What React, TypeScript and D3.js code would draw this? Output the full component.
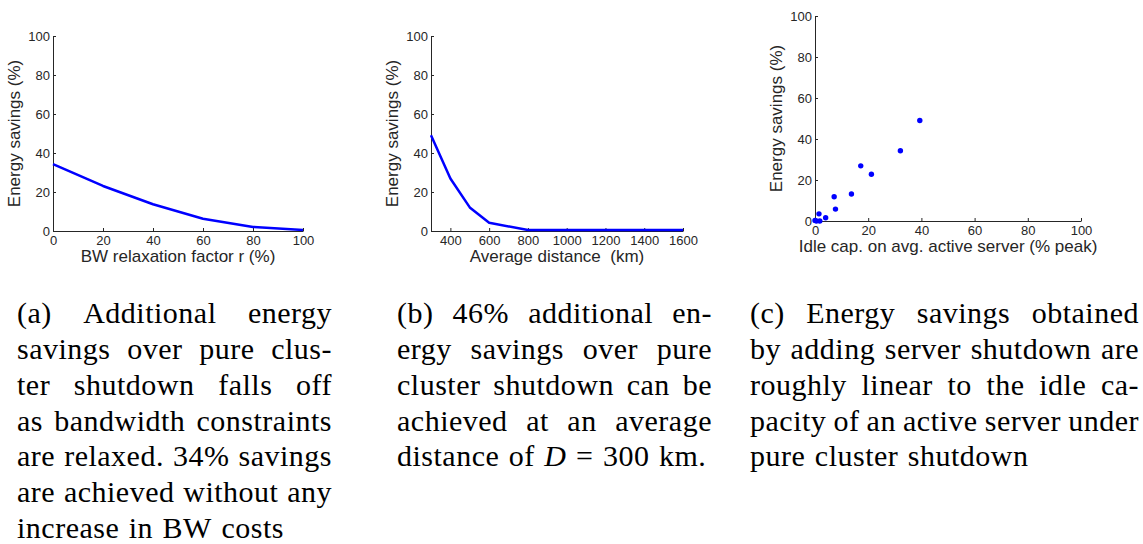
import React, { useEffect, useRef } from 'react';
import * as d3 from 'd3';

// (a) energy savings vs BW relaxation factor
const relaxX = [0, 20, 40, 60, 80, 100];
const relaxY = [34.3, 23.1, 13.7, 6.3, 2.1, 0.5];

// (b) energy savings vs average distance
const distX = [300, 400, 500, 600, 800, 1000, 1200, 1400, 1600];
const distY = [49.1, 26.9, 12.1, 4.2, 0.5, 0.5, 0.5, 0.5, 0.5];
const distTicks = [400, 600, 800, 1000, 1200, 1400, 1600];

// (c) energy savings vs idle capacity
const idleX = [0, 0.5, 1.8, 1.5, 4.0, 7.7, 7.2, 13.7, 17.2, 21.2, 32.1, 39.4];
const idleY = [0.3, 0, 0, 3.5, 1.6, 5.8, 11.8, 13.2, 26.9, 22.8, 34.3, 49.0];

const pctTicks = [0, 20, 40, 60, 80, 100];

const captionA = [
  '(a) Additional energy',
  'savings over pure clus-',
  'ter shutdown falls off',
  'as bandwidth constraints',
  'are relaxed. 34% savings',
  'are achieved without any',
  'increase in BW costs',
];
const captionB = [
  '(b) 46% additional en-',
  'ergy savings over pure',
  'cluster shutdown can be',
  'achieved at an average',
  'distance of D = 300 km.',
];
const captionC = [
  '(c) Energy savings obtained',
  'by adding server shutdown are',
  'roughly linear to the idle ca-',
  'pacity of an active server under',
  'pure cluster shutdown',
];

const BLUE = '#0000ff';
const INK = '#262626';
const SANS = 'Liberation Sans, Arial, Helvetica, sans-serif';
const SERIF = 'Liberation Serif, DejaVu Serif, serif';

const App = () => {
  const svgRef = useRef<SVGSVGElement>(null);

  useEffect(() => {
    const svg = d3.select(svgRef.current);
    svg.selectAll('*').remove();

    const panel = (opts) => {
      const { x, y, xTicks, xLabel, xs, ys, dots } = opts;
      const g = svg.append('g');

      g.append('g')
        .attr('transform', `translate(0,${y.range()[0]})`)
        .call(
          d3.axisBottom(x).tickValues(xTicks).tickFormat(d3.format('d'))
            .tickSizeInner(-3).tickSizeOuter(0).tickPadding(5)
        );
      g.append('g')
        .attr('transform', `translate(${x.range()[0]},0)`)
        .call(
          d3.axisLeft(y).tickValues(pctTicks).tickFormat(d3.format('d'))
            .tickSizeInner(-3).tickSizeOuter(0).tickPadding(3)
        );

      g.selectAll('.domain, .tick line').attr('stroke', INK);
      g.selectAll('.tick text').attr('fill', INK).attr('font-family', SANS).attr('font-size', 13);
      g.selectAll('g').attr('font-family', SANS).attr('font-size', 13);

      const midX = (x.range()[0] + x.range()[1]) / 2;
      const midY = (y.range()[0] + y.range()[1]) / 2;

      g.append('text')
        .attr('x', midX)
        .attr('y', y.range()[0] + 31)
        .attr('text-anchor', 'middle')
        .attr('fill', INK)
        .attr('font-family', SANS)
        .attr('font-size', 17)
        .style('white-space', 'pre')
        .text(xLabel);

      g.append('text')
        .attr('transform', `translate(${x.range()[0] - 33},${midY}) rotate(-90)`)
        .attr('text-anchor', 'middle')
        .attr('fill', INK)
        .attr('font-family', SANS)
        .attr('font-size', 17)
        .text('Energy savings (%)');

      const pts = xs.map((v, i) => [v, ys[i]]);
      if (dots) {
        g.selectAll('circle.pt')
          .data(pts)
          .enter()
          .append('circle')
          .attr('class', 'pt')
          .attr('cx', (d) => x(d[0]))
          .attr('cy', (d) => y(d[1]))
          .attr('r', 2.7)
          .attr('fill', BLUE);
      } else {
        const line = d3.line().x((d) => x(d[0])).y((d) => y(d[1]));
        g.append('path')
          .datum(pts)
          .attr('fill', 'none')
          .attr('stroke', BLUE)
          .attr('stroke-width', 2.5)
          .attr('stroke-linejoin', 'round')
          .attr('d', line);
      }
    };

    panel({
      x: d3.scaleLinear().domain([0, 100]).range([53, 303]),
      y: d3.scaleLinear().domain([0, 100]).range([231, 36]),
      xTicks: pctTicks,
      xLabel: 'BW relaxation factor r (%)',
      xs: relaxX,
      ys: relaxY,
    });

    panel({
      x: d3.scaleLinear().domain([300, 1600]).range([431, 683]),
      y: d3.scaleLinear().domain([0, 100]).range([231, 36]),
      xTicks: distTicks,
      xLabel: 'Average distance  (km)',
      xs: distX,
      ys: distY,
    });

    panel({
      x: d3.scaleLinear().domain([0, 100]).range([815, 1081]),
      y: d3.scaleLinear().domain([0, 100]).range([221, 16]),
      xTicks: pctTicks,
      xLabel: 'Idle cap. on avg. active server (% peak)',
      xs: idleX,
      ys: idleY,
      dots: true,
    });

    // justified captions, last line left at natural spacing
    const caption = (lines, x0, x1) => {
      const g = svg.append('g');
      lines.forEach((line, i) => {
        const y = 323 + i * 35.85;
        const words = line.split(' ');
        const nodes = words.map((w) =>
          g.append('text')
            .attr('y', y)
            .attr('font-family', SERIF)
            .attr('font-size', 30)
            .attr('letter-spacing', 0.5)
            .attr('fill', '#000')
            .attr('font-style', w === 'D' ? 'italic' : 'normal')
            .text(w)
        );
        const widths = nodes.map((n) => n.node().getComputedTextLength());
        const total = d3.sum(widths);
        const last = i === lines.length - 1;
        const gap = last ? 9.5 : (x1 - x0 - total) / (words.length - 1);
        let cx = x0;
        nodes.forEach((n, j) => {
          n.attr('x', cx);
          cx += widths[j] + gap;
        });
      });
    };

    caption(captionA, 17, 332);
    caption(captionB, 397, 712);
    caption(captionC, 750, 1139);
  }, []);

  return (
    <svg
      ref={svgRef}
      width={1143}
      height={544}
      style={{ position: 'absolute', left: 0, top: 0, background: '#fff' }}
    />
  );
};

export default App;
